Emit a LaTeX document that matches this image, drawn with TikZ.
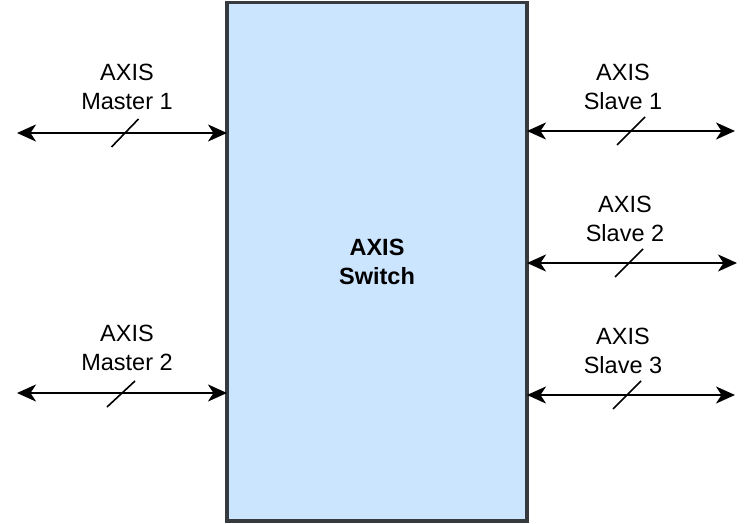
\documentclass[tikz,border=0pt]{standalone}
\usepackage{fontspec}
\setmainfont{Liberation Sans}
\usetikzlibrary{arrows.meta}
\definecolor{boxfill}{HTML}{CCE5FF}
\definecolor{boxline}{HTML}{36393D}
\tikzset{
  lbl/.style={align=center, font=\fontsize{23.5}{29}\selectfont, inner sep=0pt},
  tipx/.tip={Stealth[length=19pt,width=17pt,inset=5.5pt]},
  bus/.style={line width=2pt, tipx-tipx},
  slash/.style={line width=1.6pt, black},
}
\begin{document}
\begin{tikzpicture}[x=1pt,y=-1pt]
\useasboundingbox (0,0) rectangle (756,524);
\node[draw=boxline, fill=boxfill, line width=3.5pt, minimum width=300pt, minimum height=518.5pt, inner sep=0pt, outer sep=0pt, anchor=north west,
      align=center, font=\fontsize{23.5}{29}\selectfont\bfseries] (sw) at (227,2.5) {AXIS\\Switch};
% free ends
\coordinate (m1L) at (17,133);
\coordinate (m1R) at (227,133);
\coordinate (m2L) at (17,393);
\coordinate (m2R) at (227,393);
\coordinate (s1L) at (527,131);
\coordinate (s1R) at (735,131);
\coordinate (s2L) at (527,263);
\coordinate (s2R) at (737,263);
\coordinate (s3L) at (527,395);
\coordinate (s3R) at (735,395);
% labels
\node[lbl] (lm1) at (127,87) {AXIS\\Master 1};
\node[lbl] (lm2) at (127,348) {AXIS\\Master 2};
\node[lbl] (ls1) at (623,87) {AXIS\\Slave 1};
\node[lbl] (ls2) at (625,219) {AXIS\\Slave 2};
\node[lbl] (ls3) at (623,351) {AXIS\\Slave 3};
% buses
\draw[bus] (m1L) -- (m1R);
\draw[bus] (m2L) -- (m2R);
\draw[bus] (s1L) -- (s1R);
\draw[bus] (s2L) -- (s2R);
\draw[bus] (s3L) -- (s3R);
% slashes
\draw[slash] (111.5,147) -- (138.5,119);
\draw[slash] (107,407) -- (135,381);
\draw[slash] (617,145) -- (645,117);
\draw[slash] (615,277) -- (643,249);
\draw[slash] (613,409) -- (641,381);
\end{tikzpicture}
\end{document}
